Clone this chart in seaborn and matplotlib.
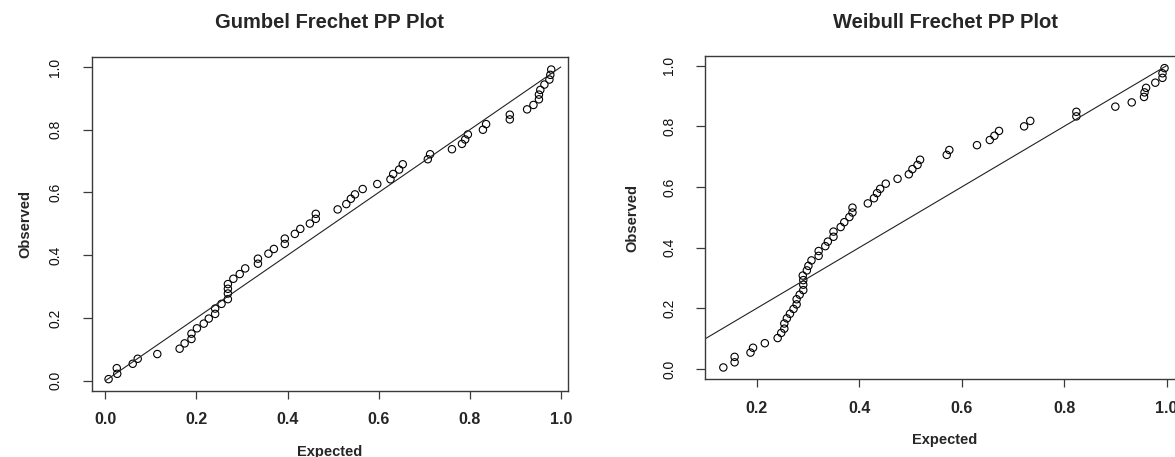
import matplotlib
matplotlib.use("Agg")
import matplotlib.pyplot as plt
import seaborn as sns
import pandas as pd

# ---------------- data ----------------
observed = [0.005, 0.022, 0.040, 0.054, 0.070, 0.085, 0.102, 0.119, 0.133, 0.150,
            0.167, 0.182, 0.198, 0.213, 0.230, 0.245, 0.260, 0.278, 0.293, 0.308,
            0.325, 0.340, 0.358, 0.373, 0.389, 0.405, 0.420, 0.436, 0.453, 0.468,
            0.484, 0.501, 0.516, 0.532, 0.546, 0.563, 0.580, 0.594, 0.611, 0.627,
            0.642, 0.659, 0.673, 0.690, 0.706, 0.722, 0.738, 0.755, 0.769, 0.785,
            0.800, 0.818, 0.833, 0.848, 0.865, 0.879, 0.897, 0.912, 0.927, 0.944,
            0.960, 0.975, 0.992]

gumbel_expected = [0.007, 0.026, 0.025, 0.060, 0.071, 0.114, 0.163, 0.174, 0.189, 0.189,
                   0.201, 0.216, 0.227, 0.241, 0.241, 0.255, 0.269, 0.269, 0.269, 0.269,
                   0.281, 0.295, 0.307, 0.335, 0.335, 0.358, 0.370, 0.394, 0.394, 0.416,
                   0.428, 0.449, 0.462, 0.462, 0.510, 0.529, 0.539, 0.548, 0.565, 0.597,
                   0.626, 0.632, 0.645, 0.653, 0.708, 0.713, 0.761, 0.783, 0.790, 0.796,
                   0.829, 0.836, 0.888, 0.888, 0.926, 0.940, 0.952, 0.952, 0.955, 0.964,
                   0.975, 0.977, 0.979]

weibull_expected = [0.135, 0.157, 0.157, 0.188, 0.193, 0.216, 0.241, 0.248, 0.254, 0.254,
                    0.259, 0.265, 0.272, 0.278, 0.278, 0.284, 0.291, 0.291, 0.291, 0.290,
                    0.298, 0.301, 0.307, 0.321, 0.321, 0.334, 0.339, 0.350, 0.350, 0.364,
                    0.371, 0.381, 0.387, 0.387, 0.417, 0.429, 0.435, 0.441, 0.452, 0.475,
                    0.497, 0.504, 0.514, 0.519, 0.571, 0.576, 0.630, 0.655, 0.664, 0.673,
                    0.722, 0.734, 0.824, 0.824, 0.900, 0.932, 0.956, 0.957, 0.960, 0.978,
                    0.992, 0.992, 0.996]

ref_line = [0.0, 1.0]

titles = ["Gumbel Frechet PP Plot", "Weibull Frechet PP Plot"]
left_ticks = [0.0, 0.2, 0.4, 0.6, 0.8, 1.0]
right_xticks = [0.2, 0.4, 0.6, 0.8, 1.0]
y_ticks = [0.0, 0.2, 0.4, 0.6, 0.8, 1.0]

# ---------------- style ----------------
sns.set_style("white")
plt.rcParams["font.family"] = ["Liberation Sans", "DejaVu Sans"]

FIG_W, FIG_H = 1175, 457
fig = plt.figure(figsize=(FIG_W / 100, FIG_H / 100), dpi=100)

panels = [
    dict(expected=gumbel_expected, title=titles[0], xticks=left_ticks,
         rect=[91.5 / FIG_W, 66 / FIG_H, 476.8 / FIG_W, 334 / FIG_H],
         xlim=(-0.0305, 1.0165), ylim=(-0.0328, 1.0319), ygap=66.5, tgap=35),
    dict(expected=weibull_expected, title=titles[1], xticks=right_xticks,
         rect=[705.4 / FIG_W, 77.7 / FIG_H, 479.1 / FIG_W, 323.3 / FIG_H],
         xlim=(0.1, 1.035), ylim=(-0.034, 1.032), ygap=73, tgap=33),
]

spine_col = "#3a3a3a"

for p in panels:
    ax = fig.add_axes(p["rect"])
    df = pd.DataFrame({"Expected": p["expected"], "Observed": observed})
    sns.lineplot(x=ref_line, y=ref_line, ax=ax, color="#222222", linewidth=0.8)
    sns.scatterplot(data=df, x="Expected", y="Observed", ax=ax, s=28,
                    marker="o", facecolors="none", edgecolor="black",
                    linewidth=0.8)
    ax.set_xlim(*p["xlim"])
    ax.set_ylim(*p["ylim"])

    ax.set_xticks(p["xticks"])
    ax.set_xticklabels([f"{t:.1f}" for t in p["xticks"]], fontsize=11.5,
                       fontweight="bold")
    ax.set_yticks(y_ticks)
    ax.set_yticklabels([f"{t:.1f}" for t in y_ticks], fontsize=10,
                       rotation=90, va="center", color="#111111")
    ax.tick_params(axis="x", direction="out", length=5.8, width=0.9,
                   color=spine_col, pad=9.5, bottom=True)
    ax.tick_params(axis="y", direction="out", length=6.5, width=0.9,
                   color=spine_col, pad=14.5, left=True)

    for s in ax.spines.values():
        s.set_color(spine_col)
        s.set_linewidth(1.0)

    w_px = p["rect"][2] * FIG_W
    h_px = p["rect"][3] * FIG_H
    ax.set_xlabel("Expected", fontsize=10.5, fontweight="bold")
    ax.set_ylabel("Observed", fontsize=10.5, fontweight="bold")
    ax.xaxis.set_label_coords(0.5, -61 / h_px)
    ax.xaxis.label.set_va("center")
    ax.yaxis.set_label_coords(-p["ygap"] / w_px, 0.5)
    ax.yaxis.label.set_va("center")

    ax.set_title(p["title"], fontsize=14.5, fontweight="bold",
                 y=1 + p["tgap"] / h_px, va="center", pad=0)

fig.savefig("out.png", dpi=100)
